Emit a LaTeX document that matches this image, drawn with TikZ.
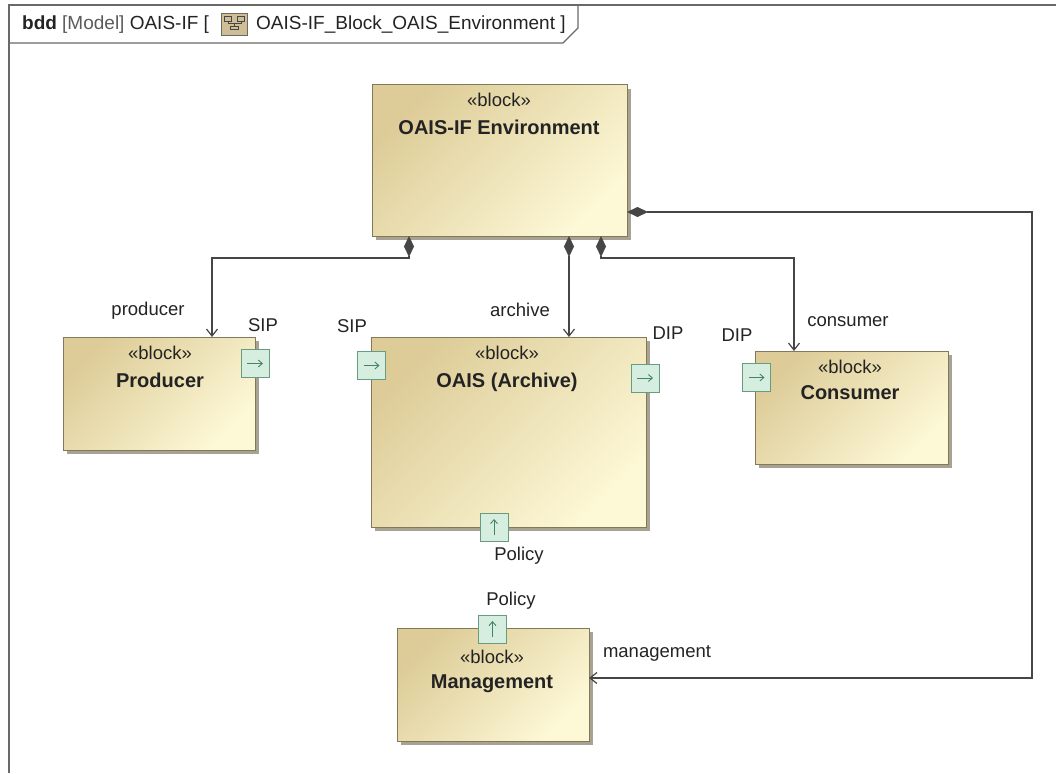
\documentclass[tikz,border=0pt]{standalone}
\usepackage{fontspec}
\setmainfont{Liberation Sans}
\usetikzlibrary{arrows.meta,shadows}
\definecolor{blkdark}{RGB}{221,204,152}
\definecolor{blklight}{RGB}{253,248,214}
\definecolor{blkedge}{RGB}{130,120,90}
\definecolor{shadowc}{RGB}{168,162,146}
\definecolor{portfill}{RGB}{214,238,224}
\definecolor{portedge}{RGB}{105,155,128}
\definecolor{portarr}{RGB}{70,130,100}
\definecolor{linec}{RGB}{70,70,70}
\definecolor{framec}{RGB}{105,105,105}
\definecolor{txt}{RGB}{35,35,35}
\definecolor{hgray}{RGB}{90,90,90}
\definecolor{icontan}{RGB}{205,190,150}
\begin{document}
\begin{tikzpicture}[x=1pt,y=-1pt,
  block/.style={draw=blkedge, line width=1pt, rectangle, inner sep=0pt, outer sep=0pt,
    top color=blkdark, bottom color=blklight, shading angle=45,
    drop shadow={shadow xshift=4pt, shadow yshift=-4pt, fill=shadowc, opacity=1}},
  port/.style={draw=portedge, fill=portfill, line width=0.9pt, rectangle, inner sep=0pt, outer sep=0pt,
    minimum width=28pt, minimum height=28pt},
  parr/.style={draw=portarr, line width=0.9pt, -{Straight Barb[length=4pt,width=7pt]}},
  lbl/.style={text=txt, inner sep=0pt, font=\fontsize{18.5}{21}\selectfont},
  stereo/.style={text=txt, inner sep=0pt, font=\fontsize{18.5}{21}\selectfont},
  bname/.style={text=txt, inner sep=0pt, font=\fontsize{20}{23}\selectfont\bfseries},
  comp/.style={draw=linec, line width=1.2pt,
    {Diamond[length=21pt,width=10pt,fill=linec]}-{Straight Barb[length=7pt,width=11pt]}},
  frame/.style={draw=framec, line width=2pt},
]
\useasboundingbox (0,0) rectangle (1056,773);

% frame
\draw[frame] (9,773) -- (9,5) -- (1056,5);
\draw[draw=framec, line width=1.4pt] (9,43) -- (563,43) -- (578,28) -- (578,5);
\node[text=txt, inner sep=0pt, anchor=base west, font=\fontsize{19}{21}\selectfont\bfseries] (hbdd) at (22,30) {bdd};
\node[text=hgray, inner sep=0pt, anchor=base west, font=\fontsize{19}{21}\selectfont] (hmodel) at (62,30) {[Model] \textcolor{txt}{OAIS-IF [}};
\node[draw=framec, fill=icontan, line width=0.6pt, minimum width=26pt, minimum height=22pt, inner sep=0pt] (hicon) at (234.5,24) {};
\draw[draw=linec, line width=0.8pt] ([shift={(-4,5)}]hicon.center) rectangle ([shift={(4,2)}]hicon.center);
\draw[draw=linec, line width=0.8pt] ([shift={(-10,-8)}]hicon.center) rectangle ([shift={(-3,-3)}]hicon.center);
\draw[draw=linec, line width=0.8pt] ([shift={(3,-8)}]hicon.center) rectangle ([shift={(10,-3)}]hicon.center);
\draw[draw=linec, line width=0.8pt] ([shift={(0,2)}]hicon.center) -- ([shift={(0,-1)}]hicon.center) -- ([shift={(-6.5,-1)}]hicon.center) -- ([shift={(-6.5,-3)}]hicon.center);
\draw[draw=linec, line width=0.8pt] ([shift={(0,-1)}]hicon.center) -- ([shift={(6.5,-1)}]hicon.center) -- ([shift={(6.5,-3)}]hicon.center);
\node[text=txt, inner sep=0pt, anchor=base west, font=\fontsize{19}{21}\selectfont] (htitle) at (256,30) {OAIS-IF\_Block\_OAIS\_Environment ]};

% blocks
\node[block, minimum width=255pt, minimum height=151pt] (env) at (499.5,160.5) {};
\node[block, minimum width=192pt, minimum height=113pt] (producer) at (159,393.5) {};
\node[block, minimum width=275pt, minimum height=190pt] (oais) at (508.5,432) {};
\node[block, minimum width=193pt, minimum height=113pt] (consumer) at (851.5,407.5) {};
\node[block, minimum width=192pt, minimum height=113pt] (mgmt) at (493,684.5) {};

% block texts
\node[stereo] (envst) at (499,100) {«block»};
\node[bname] (envnm) at (499,127) {OAIS-IF Environment};
\node[stereo] (prost) at (160,353) {«block»};
\node[bname] (pronm) at (160,380) {Producer};
\node[stereo] (oaist) at (507,353) {«block»};
\node[bname] (oaisnm) at (507,382) {OAIS (Archive)};
\node[stereo] (const) at (850,367) {«block»};
\node[bname] (connm) at (850,393) {Consumer};
\node[stereo] (mgst) at (492,657) {«block»};
\node[bname] (mgnm) at (492,684) {Management};

% ports
\node[port] (psip) at (255,363.5) {};
\node[port] (osip) at (371.5,365.5) {};
\node[port] (odip) at (645,378) {};
\node[port] (opol) at (494,527) {};
\node[port] (cdip) at (756.5,377.5) {};
\node[port] (mpol) at (492.5,629) {};
\draw[parr] ([xshift=-8pt]psip.center) -- ([xshift=8pt]psip.center);
\draw[parr] ([xshift=-8pt]osip.center) -- ([xshift=8pt]osip.center);
\draw[parr] ([xshift=-8pt]odip.center) -- ([xshift=8pt]odip.center);
\draw[parr] ([xshift=-8pt]cdip.center) -- ([xshift=8pt]cdip.center);
\draw[parr] ([yshift=-8pt]opol.center) -- ([yshift=8pt]opol.center);
\draw[parr] ([yshift=-8pt]mpol.center) -- ([yshift=8pt]mpol.center);

% connectors
\coordinate (eP) at ([xshift=37pt]env.south west);
\coordinate (eA) at ([xshift=197pt]env.south west);
\coordinate (eC) at ([xshift=229pt]env.south west);
\coordinate (eM) at ([yshift=-51.5pt]env.east);
\draw[comp] (eP) -- ++(0,22) -| ([xshift=53pt]producer.north);
\draw[comp] (eA) -- (eA |- oais.north);
\draw[comp] (eC) -- ++(0,22) -| ([xshift=-57.5pt]consumer.north);
\draw[comp] (eM) -- ++(405,0) |- ([yshift=6.5pt]mgmt.east);

% labels
\node[lbl] (lprod) at (148,311) {producer};
\node[lbl] (lpsip) at (263,325) {SIP};
\node[lbl] (losip) at (352,326) {SIP};
\node[lbl] (larch) at (520,310) {archive};
\node[lbl] (lodip) at (668,333) {DIP};
\node[lbl] (lcdip) at (737,335) {DIP};
\node[lbl] (lcons) at (848,322) {consumer};
\node[lbl] (lopol) at (519,556) {Policy};
\node[lbl] (lmpol) at (511,601) {Policy};
\node[lbl] (lmgmt) at (657,653) {management};
\end{tikzpicture}
\end{document}
